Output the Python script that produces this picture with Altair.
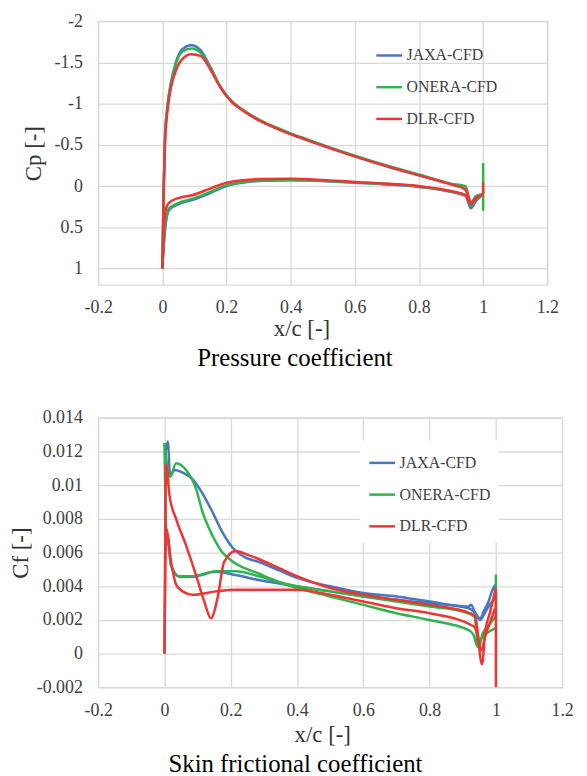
import altair as alt
import pandas as pd

FONT = "Liberation Serif, Times New Roman, DejaVu Serif, serif"
SOURCES = ["JAXA-CFD", "ONERA-CFD", "DLR-CFD"]
COLORS = ["#4677C6", "#2FB34C", "#F03434"]
X_TICKS = [-0.2, 0, 0.2, 0.4, 0.6, 0.8, 1, 1.2]
CP_TICKS = [-2, -1.5, -1, -0.5, 0, 0.5, 1]
CF_TICKS = [-0.002, 0, 0.002, 0.004, 0.006, 0.008, 0.01, 0.012, 0.014]

# ---------------- Pressure coefficient ----------------
cp_up_x = [0, 0.004, 0.008, 0.016, 0.027, 0.042, 0.062, 0.09, 0.119, 0.149, 0.18, 0.216,
           0.25, 0.3, 0.35, 0.4, 0.45, 0.5, 0.6, 0.7, 0.8, 0.9, 0.945, 0.962, 0.978, 1.0]
cp_up_jaxa = [1.0, 0.04, -0.58, -0.98, -1.26, -1.50, -1.66, -1.71, -1.65, -1.45, -1.21, -1.03,
              -0.92, -0.80, -0.71, -0.63, -0.56, -0.49, -0.36, -0.24, -0.13, -0.02, 0.04, 0.25, 0.15, 0.1]
cp_up_onera = [1.0, 0.06, -0.56, -0.96, -1.24, -1.48, -1.63, -1.67, -1.62, -1.44, -1.21, -1.03,
               -0.93, -0.81, -0.72, -0.64, -0.57, -0.50, -0.37, -0.25, -0.14, -0.03, 0.0, 0.2, 0.12, 0.1]
cp_up_dlr = [1.0, 0.1, -0.50, -0.92, -1.20, -1.40, -1.54, -1.60, -1.58, -1.42, -1.20, -1.02,
             -0.92, -0.80, -0.71, -0.63, -0.56, -0.49, -0.36, -0.24, -0.13, -0.02, 0.04, 0.2, 0.14, 0.1]

cp_lo_x = [0, 0.005, 0.011, 0.021, 0.047, 0.098, 0.149, 0.2, 0.25, 0.3, 0.4, 0.5, 0.6, 0.7,
           0.8, 0.9, 0.945, 0.962, 0.978, 1.0]
cp_lo_jaxa = [1.0, 0.7, 0.45, 0.29, 0.225, 0.165, 0.085, 0.0, -0.04, -0.06, -0.07, -0.06, -0.04,
              -0.02, 0.01, 0.07, 0.12, 0.27, 0.18, 0.1]
cp_lo_onera = [1.0, 0.66, 0.42, 0.27, 0.21, 0.15, 0.07, -0.01, -0.05, -0.065, -0.075, -0.065, -0.045,
               -0.025, 0.005, 0.065, 0.11, 0.24, 0.16, 0.1]
cp_lo_dlr = [1.0, 0.5, 0.28, 0.2, 0.15, 0.105, 0.03, -0.04, -0.07, -0.085, -0.09, -0.075, -0.05,
             -0.03, 0.0, 0.06, 0.11, 0.22, 0.15, 0.1]

# trailing-edge vertical segments at x/c = 1
cp_te_x = [1.0, 1.0]
cp_te_onera = [-0.28, 0.30]
cp_te_dlr = [0.1, -0.05]

# ---------------- Skin friction coefficient ----------------
cf_jaxa_up_x = [0.002, 0.01, 0.017, 0.03, 0.055, 0.085, 0.115, 0.145, 0.175, 0.205, 0.245, 0.284,
                0.344, 0.4, 0.5, 0.6, 0.7, 0.8, 0.918, 0.925, 0.938, 0.953, 0.963, 0.978, 0.988, 0.998]
cf_jaxa_up = [0.0118, 0.0126, 0.01055, 0.0109, 0.01075, 0.01035, 0.0095, 0.0084, 0.0072, 0.0063,
              0.0057, 0.00545, 0.00496, 0.0045, 0.0040, 0.0036, 0.0034, 0.0031, 0.0028, 0.0029,
              0.0024, 0.0021, 0.0025, 0.0031, 0.0037, 0.0041]
cf_jaxa_lo_x = [0.002, 0.01, 0.02, 0.045, 0.085, 0.155, 0.215, 0.284, 0.4, 0.5, 0.6, 0.7, 0.8,
                0.918, 0.938, 0.953, 0.963, 0.978, 0.998]
cf_jaxa_lo = [0.0060, 0.0070, 0.00525, 0.00457, 0.00457, 0.00486, 0.00467, 0.00437, 0.0040,
              0.0037, 0.0034, 0.0032, 0.0030, 0.0027, 0.0024, 0.0020, 0.0023, 0.0028, 0.0033]

cf_onera_up_x = [0, 0.017, 0.035, 0.065, 0.095, 0.115, 0.145, 0.175, 0.215, 0.284, 0.344, 0.4,
                 0.5, 0.6, 0.7, 0.8, 0.9, 0.935, 0.948, 0.96, 0.98, 0.998]
cf_onera_up = [0.0125, 0.0105, 0.0113, 0.0109, 0.0098, 0.0084, 0.0070, 0.0060, 0.00535, 0.00476,
               0.00428, 0.0040, 0.0037, 0.0034, 0.0031, 0.0028, 0.0025, 0.0022, 0.00035, 0.0012,
               0.0017, 0.0022]
cf_onera_lo_x = [0, 0.005, 0.01, 0.02, 0.045, 0.085, 0.155, 0.215, 0.284, 0.4, 0.5, 0.6, 0.7, 0.8,
                 0.918, 0.933, 0.945, 0.955, 0.975, 0.998]
cf_onera_lo = [0.0125, 0.0075, 0.0068, 0.0052, 0.0046, 0.0046, 0.0049, 0.0049, 0.0046, 0.0039,
               0.0034, 0.0029, 0.0024, 0.0020, 0.0014, 0.0011, 0.0004, 0.0009, 0.00125, 0.0015]

cf_dlr_up_x = [0, 0.005, 0.015, 0.035, 0.065, 0.095, 0.12, 0.14, 0.16, 0.18, 0.215, 0.254, 0.284,
               0.344, 0.4, 0.5, 0.6, 0.7, 0.8, 0.923, 0.938, 0.958, 0.968, 0.983, 0.995, 1.0]
cf_dlr_up = [0.0, 0.01124, 0.0094, 0.0080, 0.00643, 0.00467, 0.0031, 0.0021, 0.0033, 0.00545,
             0.0061, 0.00585, 0.00562, 0.0051, 0.0046, 0.0039, 0.0035, 0.0032, 0.0029, 0.0024,
             0.0022, -0.00063, 0.00133, 0.0025, 0.0035, 0.0039]
cf_dlr_lo_x = [0, 0.005, 0.02, 0.035, 0.055, 0.085, 0.155, 0.215, 0.284, 0.4, 0.5, 0.6, 0.7, 0.8,
               0.933, 0.945, 0.955, 0.97, 0.985, 0.998]
cf_dlr_lo = [0.0, 0.0074, 0.00545, 0.0041, 0.0037, 0.0035, 0.0037, 0.0038, 0.0038, 0.0038, 0.0035,
             0.0031, 0.0027, 0.0024, 0.00163, 0.0011, 0.0002, 0.0012, 0.0020, 0.0027]

cf_te_x = [1.0, 1.0]
cf_te_onera = [0.0022, 0.0047]
cf_te_dlr = [0.0039, -0.002]


def build(series):
    rows = []
    for src, surf, xs, ys in series:
        for i, (x, y) in enumerate(zip(xs, ys)):
            rows.append({"src": src, "key": src + surf, "i": i, "x": x, "y": y})
    return pd.DataFrame(rows)


cp_df = build([
    ("JAXA-CFD", "up", cp_up_x, cp_up_jaxa),
    ("JAXA-CFD", "lo", cp_lo_x, cp_lo_jaxa),
    ("ONERA-CFD", "up", cp_up_x, cp_up_onera),
    ("ONERA-CFD", "lo", cp_lo_x, cp_lo_onera),
    ("ONERA-CFD", "te", cp_te_x, cp_te_onera),
    ("DLR-CFD", "up", cp_up_x, cp_up_dlr),
    ("DLR-CFD", "lo", cp_lo_x, cp_lo_dlr),
    ("DLR-CFD", "te", cp_te_x, cp_te_dlr),
])

cf_df = build([
    ("JAXA-CFD", "up", cf_jaxa_up_x, cf_jaxa_up),
    ("JAXA-CFD", "lo", cf_jaxa_lo_x, cf_jaxa_lo),
    ("ONERA-CFD", "up", cf_onera_up_x, cf_onera_up),
    ("ONERA-CFD", "lo", cf_onera_lo_x, cf_onera_lo),
    ("ONERA-CFD", "te", cf_te_x, cf_te_onera),
    ("DLR-CFD", "up", cf_dlr_up_x, cf_dlr_up),
    ("DLR-CFD", "lo", cf_dlr_lo_x, cf_dlr_lo),
    ("DLR-CFD", "te", cf_te_x, cf_te_dlr),
])


def panel(df, y_title, y_dom, y_ticks, reverse, w, h, sub, legend, xtitle_x, sub_dx,
          xt_pad, yt_pad, sub_off):
    return alt.Chart(df).mark_line(strokeWidth=2.5, clip=True, interpolate="monotone").encode(
        x=alt.X("x:Q", scale=alt.Scale(domain=[-0.2, 1.2], nice=False, zero=False),
                axis=alt.Axis(values=X_TICKS, title="x/c [-]", labelExpr="'' + datum.value",
                              labelFlush=False, titleX=xtitle_x, titleAlign="center",
                              titleAnchor="start", titlePadding=xt_pad, labelPadding=14)),
        y=alt.Y("y:Q", scale=alt.Scale(domain=y_dom, nice=False, zero=False, reverse=reverse),
                axis=alt.Axis(values=y_ticks, title=y_title, labelExpr="'' + datum.value",
                              titlePadding=yt_pad, labelPadding=16)),
        color=alt.Color("src:N", scale=alt.Scale(domain=SOURCES, range=COLORS), legend=legend),
        detail="key:N",
        order="i:Q",
    ).properties(
        width=w, height=h,
        title=alt.TitleParams(sub, orient="bottom", anchor="middle", frame="group", dx=sub_dx,
                              offset=sub_off, font=FONT, fontSize=25, fontWeight="normal",
                              color="#000000"),
    )


legend_top = alt.Legend(title=None, orient="none", legendX=279, legendY=20, symbolType="stroke",
                        symbolSize=676, symbolStrokeWidth=2.5, labelFont=FONT, labelFontSize=16,
                        labelColor="#404040", rowPadding=9, labelOffset=3, padding=0)
legend_bot = alt.Legend(title=None, orient="none", legendX=264, legendY=23, symbolType="stroke",
                        symbolSize=676, symbolStrokeWidth=2.5, labelFont=FONT, labelFontSize=16,
                        labelColor="#404040", rowPadding=9, labelOffset=3, padding=8,
                        fillColor="#ffffff")

top = panel(cp_df, "Cp [-]", [-2, 1.2], CP_TICKS, True, 453, 266, "Pressure coefficient",
            legend_top, 205, -28, 1, 9, 6)
bot = panel(cf_df, "Cf [-]", [-0.002, 0.014], CF_TICKS, False, 468, 272, "Skin frictional coefficient",
            legend_bot, 226, -35, 5, 4, 5)

chart = alt.vconcat(top, bot, spacing=36).resolve_scale(color="independent").properties(
    padding={"left": 0, "top": 0, "right": 5, "bottom": 0}
).configure_view(stroke="#d9d9d9", strokeWidth=1.3).configure_axis(
    labelFont=FONT, labelFontSize=18, labelColor="#404040", ticks=False, domain=False,
    gridColor="#d9d9d9", gridWidth=1.3, titleFont=FONT, titleFontSize=23,
    titleFontWeight="normal", titleColor="#333333",
).configure_legend(labelFont=FONT).configure_title(font=FONT)

chart.save("out.html", embed_options={"renderer": "svg", "actions": False})
